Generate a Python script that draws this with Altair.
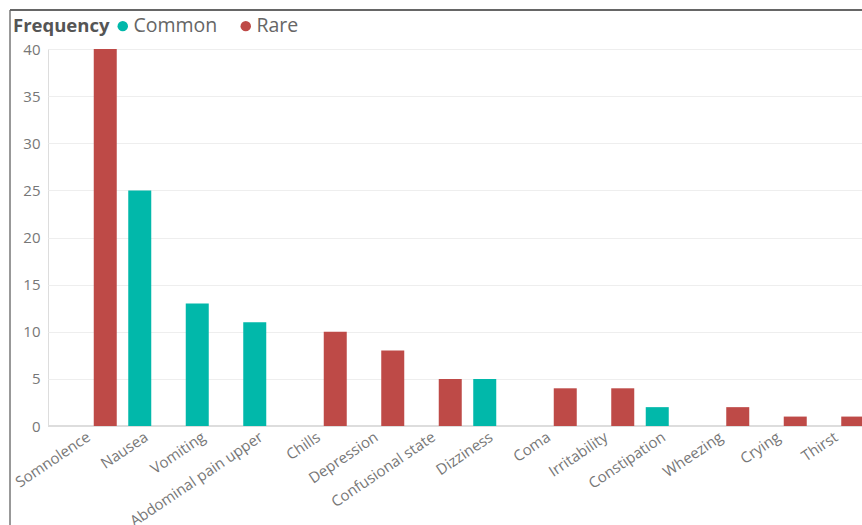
import altair as alt
import pandas as pd

categories = ["Somnolence", "Nausea", "Vomiting", "Abdominal pain upper", "Chills",
              "Depression", "Confusional state", "Dizziness", "Coma", "Irritability",
              "Constipation", "Wheezing", "Crying", "Thirst"]
frequency = ["Rare", "Common", "Common", "Common", "Rare",
             "Rare", "Rare", "Common", "Rare", "Rare",
             "Common", "Rare", "Rare", "Rare"]
counts = [40, 25, 13, 11, 10, 8, 5, 5, 4, 4, 2, 2, 1, 1]
groups = ["Common", "Rare"]
colors = ["#01B8AA", "#BE4A47"]
y_ticks = [0, 5, 10, 15, 20, 25, 30, 35, 40]

df = pd.DataFrame({"cat": categories, "freq": frequency, "n": counts})

FONT = "Open Sans"

bars = alt.Chart(df).mark_bar(clip=True).encode(
    x=alt.X("cat:N", sort=categories,
            scale=alt.Scale(range=[0, 839], paddingInner=0.2, paddingOuter=0.3957),
            axis=alt.Axis(title=None, labelAngle=-34, labelAlign="right", labelBaseline="middle",
                          labelFontSize=15, labelColor="#777777", labelFont=FONT,
                          ticks=False, domain=False, labelPadding=9, labelOffset=-5,
                          labelOverlap=False)),
    xOffset=alt.XOffset("freq:N", scale=alt.Scale(domain=groups, paddingInner=0, paddingOuter=0)),
    y=alt.Y("n:Q", scale=alt.Scale(domain=[0, 40], nice=False),
            axis=alt.Axis(title=None, values=y_ticks, grid=True, gridColor="#EEEEEE",
                          ticks=False, domain=False, labelPadding=8, labelFontSize=15,
                          labelColor="#777777", labelFont=FONT)),
    color=alt.Color("freq:N", scale=alt.Scale(domain=groups, range=colors),
                    legend=alt.Legend(title="Frequency", orient="none", legendX=-35, legendY=-33,
                                      direction="horizontal", titleOrient="left",
                                      titleFontSize=18.5, titleFontWeight="bold", titleColor="#555555",
                                      titleFont=FONT, labelFont=FONT, labelFontSize=19.5,
                                      labelColor="#666666", symbolType="circle", symbolSize=110,
                                      symbolStrokeWidth=0, symbolOpacity=1, columnPadding=18,
                                      labelOffset=1, titlePadding=3)),
)

zero = alt.Chart(pd.DataFrame({"y": [0]})).mark_rule(color="#DDDDDD", strokeWidth=2).encode(
    y="y:Q"
)

one = pd.DataFrame({"a": [0]})
left_border = alt.Chart(one).mark_rule(color="#333333", strokeWidth=1).encode(
    x=alt.value(-38), y=alt.value(-39), y2=alt.value(480)
)
top_border = alt.Chart(one).mark_rule(color="#666666", strokeWidth=2).encode(
    x=alt.value(-38), x2=alt.value(820), y=alt.value(-39)
)

chart = alt.layer(zero, bars, left_border, top_border).properties(
    width=814, height=377,
    autosize=alt.AutoSizeParams(type="none"),
    padding={"left": 48, "top": 49, "right": 0, "bottom": 99},
).configure_view(stroke=None).configure(background="white")

chart.save("out.html", embed_options={"renderer": "svg", "actions": False})
